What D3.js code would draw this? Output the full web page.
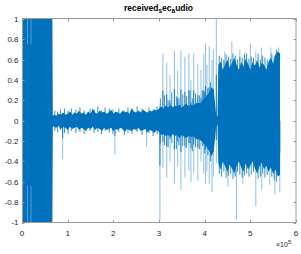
<!DOCTYPE html>
<html><head><meta charset="utf-8">
<script src="https://cdn.jsdelivr.net/npm/d3@7"></script>
<style>html,body{margin:0;padding:0;background:#fff;overflow:hidden}</style>
</head><body><svg id="c" width="301" height="254"></svg>
<script>
// ---- data (x in thousands of samples) ----
const bandK = [0, 66.5, 67.5,
  70,75,80,85,90,95,100,105,110,115,120,125,130,135,140,145,150,155,160,165,170,175,180,185,190,195,200,205,210,215,220,225,230,235,240,245,250,255,260,265,270,275,280,285,290,295,300,
  305,310,315,320,325,330,335,340,345,350,355,360,365,370,375,380,385,390,395,400,405,410,415,420,425,428,
  430,435,440,445,450,455,460,465,470,475,480,485,490,495,500,505,510,515,520,525,530,535,540,545,550,555,560,565];
const bandHi = [1, 1, 0.05,
  .06,.05,.07,.06,.08,.06,.07,.09,.06,.08,.07,.10,.07,.08,.06,.09,.07,.12,.08,.07,.10,.08,.09,.07,.08,.11,.07,.09,.08,.07,.10,.08,.09,.07,.12,.09,.08,.10,.08,.11,.09,.08,.10,.09,.11,.10,.12,
  .14,.12,.15,.13,.16,.13,.15,.14,.16,.13,.15,.17,.14,.16,.15,.17,.18,.17,.20,.22,.25,.28,.33,.30,.06,.04,
  .55,.58,.50,.56,.60,.52,.57,.62,.55,.50,.58,.53,.61,.56,.50,.58,.54,.60,.52,.57,.55,.50,.58,.62,.56,.65,.68,.66];
const bandLo = [-1, -1, -0.05,
  -.06,-.07,-.05,-.08,-.06,-.07,-.09,-.06,-.08,-.07,-.06,-.09,-.07,-.08,-.10,-.07,-.08,-.06,-.09,-.07,-.08,-.10,-.07,-.09,-.08,-.07,-.10,-.08,-.09,-.07,-.08,-.11,-.08,-.09,-.10,-.08,-.09,-.07,-.10,-.09,-.08,-.11,-.09,-.10,-.12,-.09,-.11,
  -.14,-.13,-.15,-.14,-.16,-.13,-.15,-.14,-.17,-.14,-.16,-.17,-.15,-.16,-.15,-.18,-.18,-.19,-.21,-.23,-.26,-.30,-.35,-.30,-.06,-.04,
  -.42,-.48,-.40,-.45,-.50,-.43,-.47,-.52,-.44,-.40,-.46,-.50,-.42,-.48,-.44,-.40,-.47,-.52,-.45,-.41,-.48,-.44,-.50,-.46,-.52,-.48,-.55,-.53];

// dark short peaks that roughen the envelope
const texK = [72,78,84,93,101,108,118,127,136,149,158,166,174,182,191,199,212,224,232,241,252,263,278,287,296,
  303,312,320,328,338,344,352,360,368,373,380,389,395,400,407,413,
  432,437,442,447,452,457,462,467,472,477,482,487,492,497,502,507,517,522,527,532,537,547,552,557];
const texHi = [.10,.09,.11,.12,.10,.12,.11,.13,.10,.12,.11,.14,.10,.13,.12,.11,.12,.10,.13,.12,.14,.12,.13,.11,.14,
  .22,.25,.20,.28,.24,.22,.26,.24,.30,.22,.27,.25,.30,.28,.32,.38,
  .64,.62,.60,.65,.63,.61,.66,.64,.60,.63,.62,.65,.66,.61,.63,.62,.66,.60,.64,.62,.60,.66,.64,.70];
const texLo = [-.10,-.11,-.09,-.12,-.13,-.10,-.12,-.11,-.13,-.10,-.12,-.11,-.13,-.10,-.12,-.13,-.11,-.14,-.12,-.13,-.11,-.14,-.12,-.15,-.13,
  -.22,-.24,-.26,-.22,-.28,-.24,-.25,-.27,-.22,-.30,-.26,-.28,-.25,-.32,-.34,-.40,
  -.52,-.55,-.50,-.56,-.54,-.52,-.57,-.55,-.50,-.53,-.56,-.54,-.52,-.55,-.53,-.50,-.57,-.55,-.52,-.56,-.53,-.55,-.58,-.60];

const spikeK  = [89, 203.5, 273,
  302, 308.5, 317, 324, 333.7, 341, 348, 356.7, 365.4, 370, 376, 385, 392, 398, 402, 405, 410, 416, 419, 425.5,
  444, 450.8, 459.5, 469.8, 477, 483.6, 488, 500, 512, 524.5, 525, 542.7, 545, 553.6, 562, 564.5];
const spikeHi = [0, 0, 0,
  .15, .66, .57, .45, .69, .50, .69, .63, .66, .40, .66, .56, .50, .66, .76, .55, .73, .60, .70, 1.0,
  .68, 0, .78, 0, .70, 0, .68, .76, .68, .72, 0, 0, .72, 0, .72, 0];
const spikeLo = [-.38, -.33, -.26,
  -.98, -.46, -.56, -.40, -.62, -.45, -.68, -.56, -.49, -.60, -.52, -.59, -.40, -.52, -.62, -.50, -.62, -.70, -.55, -.42,
  0, -.65, 0, -.97, 0, -.62, 0, 0, -.84, 0, -.68, -.63, 0, -.72, 0, -.70];

// light streaks inside the saturated first block
const streakK = [12, 19.7];

const xTicks = [0, 1, 2, 3, 4, 5, 6];
const yTicks = [-1, -0.8, -0.6, -0.4, -0.2, 0, 0.2, 0.4, 0.6, 0.8, 1];

// ---- drawing ----
const svg = d3.select('#c');
const X0 = 22, X1 = 296, Y0 = 222.5, Y1 = 19;
const x = d3.scaleLinear().domain([0, 600]).range([X0, X1]);
const y = d3.scaleLinear().domain([-1, 1]).range([Y0, Y1]);
const blue = '#0072BD', light = '#8cc0e3';
const font = "'Liberation Sans', Arial, Helvetica, sans-serif";

const g = svg.append('g');

// light spikes
g.selectAll('line.sp').data(spikeK).join('line')
  .attr('x1', d => x(d)).attr('x2', d => x(d))
  .attr('y1', (d, i) => y(spikeHi[i])).attr('y2', (d, i) => y(spikeLo[i]))
  .attr('stroke', light).attr('stroke-width', 1);
// darker inner parts of spikes
g.selectAll('line.spc').data(spikeK).join('line')
  .attr('x1', d => x(d)).attr('x2', d => x(d))
  .attr('y1', (d, i) => y(spikeHi[i] * 0.45)).attr('y2', (d, i) => y(spikeLo[i] * 0.45))
  .attr('stroke', blue).attr('stroke-width', 0.9);

// dense envelope
const area = d3.area()
  .x((d, i) => x(bandK[i]))
  .y0((d, i) => y(bandLo[i]))
  .y1((d, i) => y(bandHi[i]));
g.append('path').datum(bandK).attr('d', area).attr('fill', blue);

// rough peaks
g.selectAll('line.tx').data(texK).join('line')
  .attr('x1', d => x(d)).attr('x2', d => x(d))
  .attr('y1', (d, i) => y(texHi[i])).attr('y2', (d, i) => y(texLo[i]))
  .attr('stroke', blue).attr('stroke-width', 0.8);

// streaks in first block
streakK.forEach(k => {
  [[0.75, 1], [-1, -0.64]].forEach(([a, b]) => {
    g.append('line').attr('x1', x(k)).attr('x2', x(k)).attr('y1', y(a)).attr('y2', y(b))
      .attr('stroke', '#4f9fd6').attr('stroke-width', 1);
  });
});

// axes box
const axisCol = '#9a9a9a';
svg.append('rect').attr('x', X0 + 0.5).attr('y', Y1 - 0.5).attr('width', X1 - X0 - 0.5).attr('height', Y0 - Y1 + 0.5)
  .attr('fill', 'none').attr('stroke', axisCol).attr('stroke-width', 1);

const tl = 2.5;
xTicks.forEach(t => {
  const px = Math.round(x(t * 100)) + 0.5;
  svg.append('line').attr('x1', px).attr('x2', px).attr('y1', Y0).attr('y2', Y0 - tl).attr('stroke', axisCol);
  svg.append('line').attr('x1', px).attr('x2', px).attr('y1', Y1 - 0.5).attr('y2', Y1 + tl).attr('stroke', axisCol);
  svg.append('text').attr('x', x(t * 100)).attr('y', 235.5).attr('text-anchor', 'middle')
    .attr('font-family', font).attr('font-size', 8).attr('fill', '#262626').text(t);
});
yTicks.forEach(t => {
  const py = Math.round(y(t)) + 0.5;
  svg.append('line').attr('x1', X0).attr('x2', X0 + tl).attr('y1', py).attr('y2', py).attr('stroke', axisCol);
  svg.append('line').attr('x1', X1).attr('x2', X1 - tl).attr('y1', py).attr('y2', py).attr('stroke', axisCol);
  svg.append('text').attr('x', 18.5).attr('y', y(t) + 2.8).attr('text-anchor', 'end')
    .attr('font-family', font).attr('font-size', 8).attr('fill', '#262626').text(String(t));
});

// exponent label
const ex = svg.append('text').attr('x', 276).attr('y', 247).attr('font-family', font)
  .attr('font-size', 7).attr('fill', '#262626');
ex.append('tspan').text('×10');
ex.append('tspan').attr('dy', -3.5).attr('font-size', 6).text('5');

// title
const tt = svg.append('text').attr('x', 158.5).attr('y', 10.5).attr('text-anchor', 'middle')
  .attr('font-family', font).attr('font-size', 8.5).attr('font-weight', 'bold').attr('fill', '#000');
tt.append('tspan').text('received');
tt.append('tspan').attr('dy', 2.5).attr('font-size', 6.5).text('s');
tt.append('tspan').attr('dy', -2.5).text('ec');
tt.append('tspan').attr('dy', 2.5).attr('font-size', 6.5).text('a');
tt.append('tspan').attr('dy', -2.5).text('udio');
</script></body></html>
